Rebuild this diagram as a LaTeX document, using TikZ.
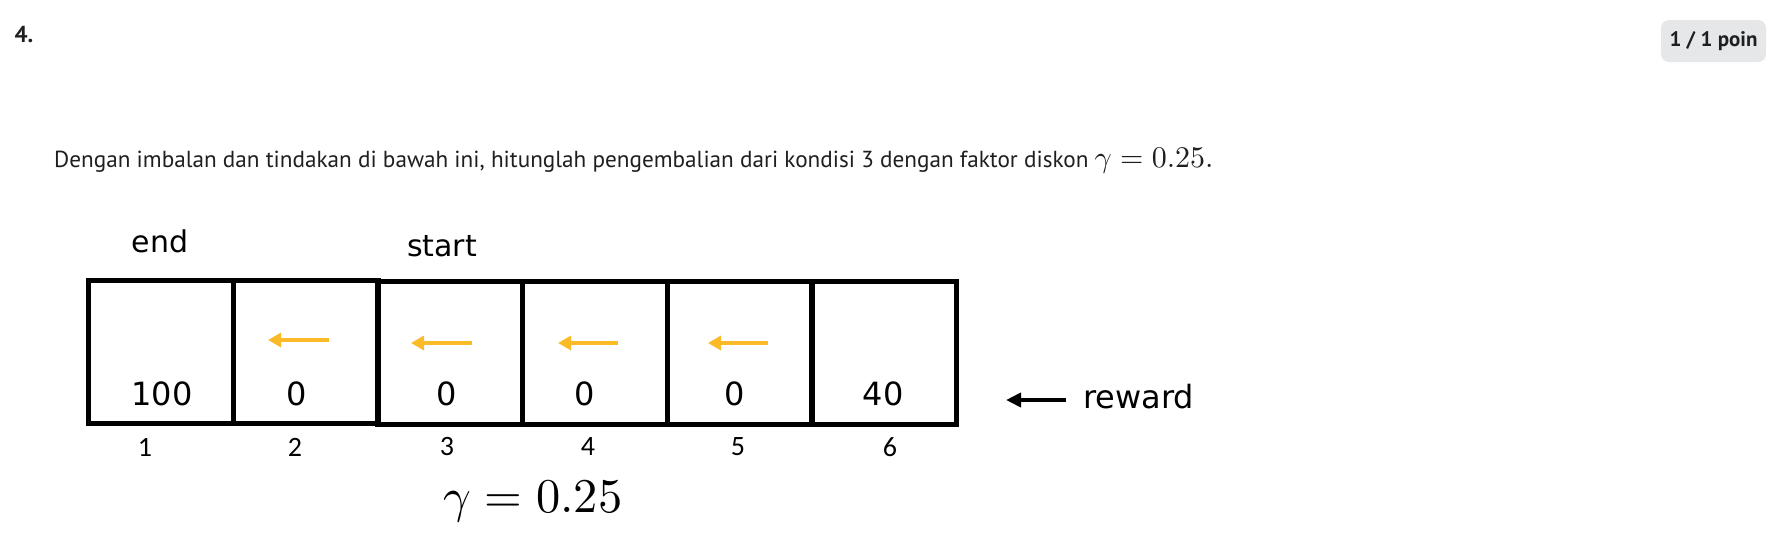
\documentclass[tikz,border=0pt]{standalone}
\usepackage{graphicx}
\usepackage{fontspec}
\usetikzlibrary{arrows.meta}
\newfontfamily\dvfont{DejaVu Sans}
\newfontfamily\uifont{PT Sans}
\newfontfamily\lblfont{Carlito}
\definecolor{arroworange}{RGB}{251,186,40}
\definecolor{badgegray}{RGB}{230,231,233}
\definecolor{txtdark}{RGB}{31,31,31}
\tikzset{
  cell/.style={draw=black, line width=5pt, minimum width=145pt, minimum height=143pt, inner sep=0pt, outer sep=0pt},
  rew/.style={font=\dvfont\fontsize{32}{36}\selectfont, inner sep=0pt, anchor=base},
  toplbl/.style={font=\dvfont\fontsize{30}{36}\selectfont, inner sep=0pt, anchor=base},
  idx/.style={font=\lblfont\fontsize{28}{32}\selectfont, inner sep=0pt},
  act/.style={draw=arroworange, line width=4.5pt, -{Triangle[length=13pt,width=14pt]}},
  rarrow/.style={draw=black, line width=4pt, -{Triangle[length=15pt,width=14pt]}}
}
\begin{document}
\begin{tikzpicture}[x=1pt,y=-1pt]
\useasboundingbox (0,0) rectangle (1776,541);
\fill[white] (0,0) rectangle (1776,541);
% header
\node[font=\uifont\bfseries\fontsize{23}{26}\selectfont, text=txtdark, inner sep=0pt] (num) at (24,35) {4.};
\node[fill=badgegray, rounded corners=8pt, minimum width=105pt, minimum height=42pt, inner sep=0pt,
      font=\uifont\bfseries\fontsize{21}{24}\selectfont, text=txtdark] (badge) at (1713.5,41) {1 / 1 poin};
% question
\node[anchor=base west, inner sep=0pt, text=txtdark] (q) at (54,167)
  {\uifont\fontsize{23.2}{27}\selectfont Dengan imbalan dan tindakan di bawah ini, hitunglah pengembalian dari kondisi 3 dengan faktor diskon \scalebox{3.0}{\normalsize$\gamma=0.25$}\scalebox{3.0}{\normalsize$.$}};
% labels above
\node[toplbl] (endl) at (160,252) {end};
\node[toplbl] (startl) at (442,256) {start};
% cells
\node[cell] (c1) at (160.5,351.5) {};
\node[cell] (c2) at (305.5,351.5) {};
\node[cell] (c3) at (450,353) {};
\node[cell] (c4) at (594.5,353) {};
\node[cell] (c5) at (739.5,353) {};
\node[cell] (c6) at (883.5,353) {};
% rewards
\node[rew] (r1) at (162,405) {100};
\node[rew] (r2) at (297,405) {0};
\node[rew] (r3) at (447,405) {0};
\node[rew] (r4) at (585,405) {0};
\node[rew] (r5) at (735,405) {0};
\node[rew] (r6) at (883,405) {40};
% actions
\coordinate (a2s) at (329,340); \coordinate (a2e) at (268,340);
\coordinate (a3s) at (472,343); \coordinate (a3e) at (411,343);
\coordinate (a4s) at (618,343); \coordinate (a4e) at (558,343);
\coordinate (a5s) at (768,343); \coordinate (a5e) at (708,343);
\draw[act] (a2s) -- (a2e);
\draw[act] (a3s) -- (a3e);
\draw[act] (a4s) -- (a4e);
\draw[act] (a5s) -- (a5e);
% reward pointer
\coordinate (rps) at (1066,400); \coordinate (rpe) at (1006,400);
\draw[rarrow] (rps) -- (rpe);
\node[rew, anchor=base west] (rewardl) at (1083,408) {reward};
% indices
\node[idx] (i1) at (145,447) {1};
\node[idx] (i2) at (295,447) {2};
\node[idx] (i3) at (447,447) {3};
\node[idx] (i4) at (588,447) {4};
\node[idx] (i5) at (738,447) {5};
\node[idx] (i6) at (890,447) {6};
% gamma
\node[anchor=base, inner sep=0pt] (gam) at (533,512) {\scalebox{4.85}{\normalsize$\gamma=0.25$}};
\end{tikzpicture}
\end{document}
